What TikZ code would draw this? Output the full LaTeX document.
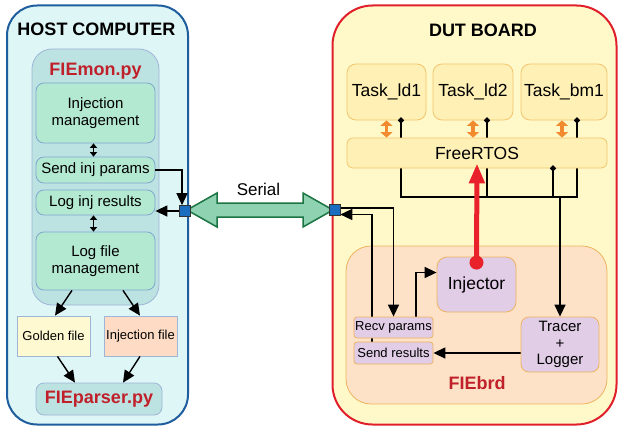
\documentclass[tikz,border=0pt]{standalone}
\usepackage{fontspec}
\setmainfont{Liberation Sans}
\usetikzlibrary{arrows.meta,shapes.geometric}

\definecolor{hostfill}{HTML}{DFF6F6}
\definecolor{hostline}{HTML}{1F5E9E}
\definecolor{monfill}{HTML}{BCE2E2}
\definecolor{monline}{HTML}{9DB5D6}
\definecolor{greenfill}{HTML}{B3E8D1}
\definecolor{greenline}{HTML}{80A8CF}
\definecolor{dutfill}{HTML}{FFF9C9}
\definecolor{dutline}{HTML}{E11F2B}
\definecolor{taskfill}{HTML}{FFF1B5}
\definecolor{taskline}{HTML}{F2C56E}
\definecolor{brdfill}{HTML}{FDE2C7}
\definecolor{brdline}{HTML}{EEB360}
\definecolor{lavfill}{HTML}{E1CDE6}
\definecolor{goldfill}{HTML}{FFF9D1}
\definecolor{injfill}{HTML}{FDDBC5}
\definecolor{titlered}{HTML}{C0202A}
\definecolor{serfill}{HTML}{8ED2B1}
\definecolor{serline}{HTML}{1B7442}
\definecolor{portfill}{HTML}{1A6DBF}
\definecolor{orangearr}{HTML}{F28B30}
\definecolor{redarr}{HTML}{E8212B}

\pgfdeclarelayer{bg}
\pgfdeclarelayer{wires}
\pgfsetlayers{bg,wires,main}

\newcommand{\fs}[1]{\fontsize{#1}{#1}\selectfont}

\begin{document}
\begin{tikzpicture}[x=1pt,y=-1pt,
  box/.style={draw, line width=0.8pt, inner sep=1pt, align=center},
  hostbox/.style={box, draw=hostline, fill=hostfill, line width=2pt, rounded corners=30pt},
  dutbox/.style={box, draw=dutline, fill=dutfill, line width=2pt, rounded corners=40pt},
  monbox/.style={box, draw=monline, fill=monfill, rounded corners=20pt},
  greenbox/.style={box, draw=greenline, fill=greenfill, rounded corners=8pt, font=\fs{15}, execute at begin node=\setlength{\baselineskip}{17pt}},
  taskbox/.style={box, draw=taskline, fill=taskfill, rounded corners=9pt, font=\fs{17.5}},
  brdbox/.style={box, draw=brdline, fill=brdfill, rounded corners=25pt},
  lavbox/.style={box, draw=brdline, fill=lavfill, rounded corners=8pt},
  filebox/.style={box, draw=monline, font=\fs{13}},
  btitle/.style={font=\bfseries\fs{18}},
  rtitle/.style={font=\bfseries\fs{18}, text=titlered},
  port/.style={draw=black!80, fill=portfill, line width=0.6pt, minimum size=11pt, inner sep=0pt},
  junc/.style={diamond, fill=black, minimum size=6.5pt, inner sep=0pt},
  arr/.style={line width=1.4pt, -{Triangle[length=12pt,width=11pt]}},
  sdarr/.style={line width=1.1pt, {Triangle[length=4.5pt,width=7pt]}-{Triangle[length=4.5pt,width=7pt]}},
  oarr/.style={orangearr, line width=3.5pt, {Triangle[length=5.5pt,width=12pt]}-{Triangle[length=5.5pt,width=12pt]}},
  wire/.style={line width=1.4pt}]
\useasboundingbox (0,0) rectangle (619,428);

%Внешние блоки
\begin{pgfonlayer}{bg}
\node[hostbox, minimum width=181, minimum height=419] (host) at (97.5,215) {};
\node[dutbox, minimum width=284, minimum height=419] (dut) at (474.5,215) {};
\node[monbox, minimum width=127, minimum height=256] (mon) at (95.5,177) {};
\node[brdbox, minimum width=261, minimum height=158] (brd) at (476.5,325) {};
\end{pgfonlayer}

%Заголовки
\node[btitle] (hostt) at (96.5,29.5) {HOST COMPUTER};
\node[btitle] (dutt) at (483,30.5) {DUT BOARD};
\node[rtitle] (mont) at (95.5,71.5) {FIEmon.py};
\node[rtitle] (brdt) at (477,383.5) {FIEbrd};

%Блоки хоста
\node[greenbox, minimum width=119, minimum height=60] (injm) at (95.5,113) {Injection\\management};
\node[greenbox, minimum width=119, minimum height=26] (send) at (95.5,170) {Send inj params};
\node[greenbox, minimum width=119, minimum height=25] (loginj) at (95.5,202.5) {Log inj results};
\node[greenbox, minimum width=119, minimum height=58] (logf) at (95.5,261) {Log file\\management};
\node[filebox, fill=goldfill, minimum width=73, minimum height=40] (golden) at (53.5,336) {Golden file};
\node[filebox, fill=injfill, minimum width=73, minimum height=40] (injf) at (140.5,336) {Injection file};
\node[box, draw=monline, fill=monfill, rounded corners=8pt, minimum width=126, minimum height=32,
  font=\bfseries\fs{18}, text=titlered] (parser) at (99,399) {FIEparser.py};

\draw[sdarr] ([xshift=-2pt]injm.south) -- ([xshift=-2pt]send.north);
\draw[sdarr] ([xshift=-2pt]loginj.south) -- ([xshift=-2pt]logf.north);
\draw[arr] ([xshift=-23.5pt]logf.south) -- ([xshift=1.5pt]golden.north);
\draw[arr] ([xshift=27.5pt]logf.south) -- ([xshift=-0.5pt]injf.north);
\draw[arr] ([xshift=4pt]golden.south) -- ([xshift=-24pt]parser.north);
\draw[arr] ([xshift=-0.5pt]injf.south) -- ([xshift=24pt]parser.north);

%Блоки платы
\node[taskbox, minimum width=79, minimum height=56] (t1) at (386.5,92) {Task\_ld1};
\node[taskbox, minimum width=80, minimum height=56] (t2) at (473,92) {Task\_ld2};
\node[taskbox, minimum width=86, minimum height=56] (t3) at (564,92) {Task\_bm1};
\node[taskbox, rounded corners=6pt, minimum width=260, minimum height=30] (rtos) at (477,153) {FreeRTOS};
\node[lavbox, rounded corners=10pt, minimum width=79, minimum height=55, font=\fs{17.5}] (injector) at (476.5,284.5) {Injector};
\node[lavbox, rounded corners=3pt, minimum width=79, minimum height=21, font=\fs{13}] (recv) at (393.5,327.5) {Recv params};
\node[lavbox, rounded corners=3pt, minimum width=79, minimum height=22, font=\fs{13}] (sendr) at (393.5,353) {Send results};
\node[lavbox, minimum width=78, minimum height=55, font=\fs{15},
  execute at begin node=\setlength{\baselineskip}{16.5pt}] (tracer) at (560,344.5) {Tracer\\+\\Logger};

\draw[oarr] (t1.south) -- (t1.south |- rtos.north);
\draw[oarr] (t2.south) -- (t2.south |- rtos.north);
\draw[oarr] ([xshift=-2pt]t3.south) -- ([xshift=-2pt]t3.south |- rtos.north);

%Шина трассировки
\node[junc] (j1) at ([xshift=14.5pt]t1.south) {};
\node[junc] (j2) at ([xshift=14pt]t2.south) {};
\node[junc] (j3) at ([xshift=13pt]t3.south) {};
\node[junc] (j4) at ([xshift=76pt]rtos.south) {};
\coordinate (bus) at (0,197);
\begin{pgfonlayer}{wires}
\draw[wire] (j1.center) -- (j1 |- bus) -- (j3 |- bus) -- (j3.center);
\draw[wire] (j2.center) -- (j2 |- bus);
\draw[wire] (j4.center) -- (j4 |- bus);
\draw[arr] (tracer.north |- bus) -- (tracer.north);
\end{pgfonlayer}

%Инжектор
\node[circle, fill=redarr, minimum size=14pt, inner sep=0pt] (rdot) at ([yshift=-6pt]injector.north) {};
\draw[redarr, line width=5pt, -{Triangle[length=20pt,width=15pt]}] (rdot.center) -- ([yshift=5pt]rtos.south);

%Последовательный канал
\draw[serline, fill=serfill, line width=1.5pt, line join=miter]
  (187,210) -- (217,193) -- (217,203) -- (303,203) -- (303,193) -- (333,210)
  -- (303,227) -- (303,217) -- (217,217) -- (217,227) -- cycle;
\node[font=\fs{17}] (serial) at (258.5,189) {Serial};
\node[port] (hport) at (185,211) {};
\node[port] (dport) at (334.5,210) {};

\draw[arr] (send.east) -| ([xshift=-3pt]hport.north);
\draw[arr] (hport.west) -- (hport.west -| loginj.east);
\begin{pgfonlayer}{wires}
\draw[arr] ([yshift=2pt]dport.east) -| (recv.north);
\draw[arr] ([xshift=-21.5pt]sendr.north) |- ([yshift=-4.5pt]dport.east);
\draw[arr] ([xshift=22.5pt]recv.north) |- ([yshift=12pt]injector.west);
\draw[arr] (tracer.west |- sendr.east) -- (sendr.east);
\end{pgfonlayer}

\end{tikzpicture}
\end{document}
